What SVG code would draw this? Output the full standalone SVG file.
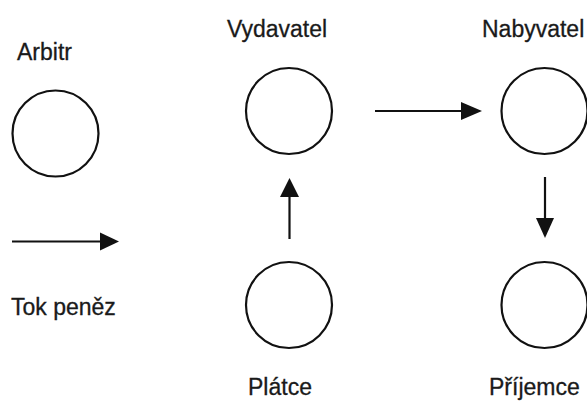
<svg xmlns="http://www.w3.org/2000/svg" width="587" height="401" viewBox="0 0 587 401">
<defs>
<style>
.node circle{fill:#fff;stroke:#111;stroke-width:2.2}
text{font-family:"Liberation Sans",Arial,sans-serif;font-size:23px;fill:#1a1a1a;stroke:#1a1a1a;stroke-width:0.3}
.conn line{stroke:#111;stroke-width:2.2}
.conn polygon{fill:#111}
</style>
</defs>
<rect width="587" height="401" fill="#fff"/>
<g id="arbitr" class="node">
<text x="17" y="60">Arbitr</text>
<circle cx="55.5" cy="133.5" r="43"/>
</g>
<g id="legend">
<line x1="12" y1="241.5" x2="102" y2="241.5" stroke="#111" stroke-width="2.2"/>
<polygon points="100,232.5 119,241.5 100,250.5" fill="#111"/>
<text x="11" y="315">Tok peněz</text>
</g>
<g id="vydavatel" class="node">
<text x="227" y="37">Vydavatel</text>
<circle cx="289" cy="111" r="43"/>
</g>
<g id="nabyvatel" class="node">
<text x="482" y="37">Nabyvatel</text>
<circle cx="544.5" cy="111" r="43"/>
</g>
<g id="platce" class="node">
<circle cx="289" cy="305" r="43"/>
<text x="248" y="395">Plátce</text>
</g>
<g id="prijemce" class="node">
<circle cx="544.5" cy="305" r="43"/>
<text x="489" y="395">Příjemce</text>
</g>
<g id="connectors" class="conn">
<line x1="375" y1="111" x2="463" y2="111"/>
<polygon points="461,102 482,111 461,120"/>
<line x1="289.5" y1="239" x2="289.5" y2="196"/>
<polygon points="280,197 289.5,178 299,197"/>
<line x1="545" y1="177" x2="545" y2="220"/>
<polygon points="536,218 545,238 554,218"/>
</g>
</svg>
